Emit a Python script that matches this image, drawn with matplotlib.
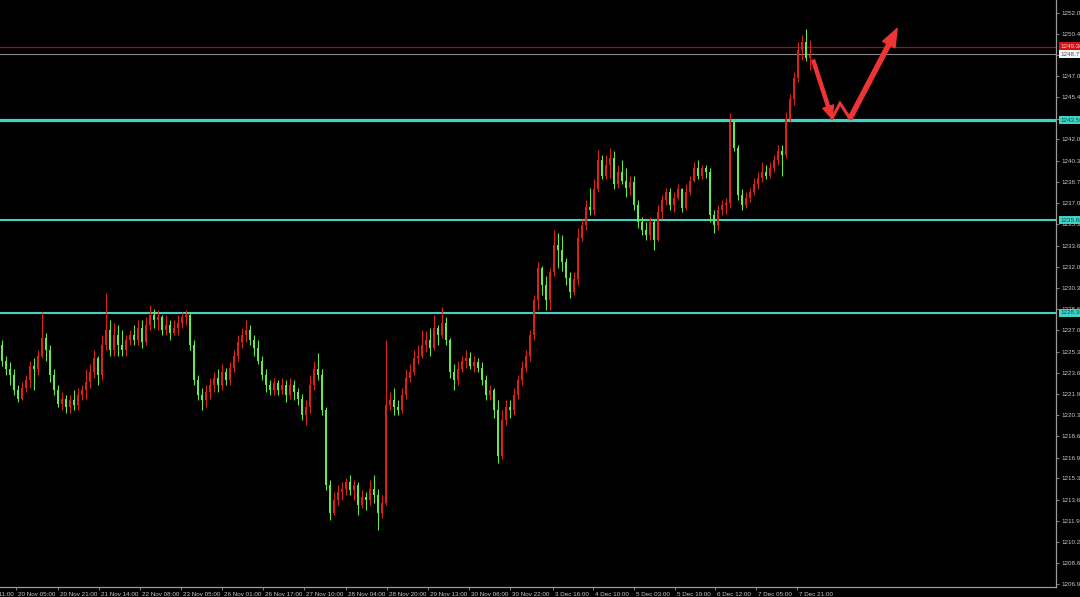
import matplotlib
matplotlib.use("Agg")
import matplotlib.pyplot as plt
import matplotlib.transforms as mtransforms
import numpy as np

# hourly candles, open = previous close
first_open = 1225.8
closes = [
    1224.6, 1223.9, 1223.5, 1222.3, 1221.6, 1222.4, 1223.1, 1224.2, 1223.9, 1225.0,
    1226.4, 1225.4, 1223.5, 1222.3, 1221.2, 1221.6, 1220.9, 1221.5, 1221.1, 1221.9,
    1222.3, 1222.9, 1223.7, 1224.8, 1223.5, 1225.8, 1227.0, 1225.4, 1226.6, 1225.8,
    1225.4, 1226.2, 1226.6, 1226.2, 1227.2, 1226.1, 1227.4, 1228.2, 1227.8, 1228.0,
    1227.0, 1227.4, 1226.8, 1227.2, 1227.6, 1228.0, 1228.2, 1225.8, 1223.1, 1221.9,
    1221.5, 1222.1, 1222.7, 1223.2, 1222.7, 1223.7, 1223.1, 1224.0, 1225.0, 1226.1,
    1226.6, 1227.0, 1226.2, 1225.6, 1224.6, 1223.5, 1222.7, 1222.3, 1222.8, 1222.3,
    1222.7, 1221.9, 1222.7, 1222.1, 1221.6, 1220.3, 1220.9, 1222.7, 1223.9, 1223.5,
    1220.7, 1214.8, 1212.6, 1213.6, 1214.2, 1214.5, 1215.0, 1214.4, 1214.8, 1213.2,
    1213.8, 1213.6, 1214.5, 1214.0, 1212.6, 1213.4, 1221.1, 1221.5, 1220.9, 1220.7,
    1221.9, 1223.2, 1223.7, 1224.8, 1225.0, 1225.8, 1226.2, 1225.6, 1227.2, 1226.6,
    1227.6, 1226.2, 1223.7, 1223.1, 1223.9, 1224.6, 1224.8, 1224.2, 1224.5, 1224.0,
    1223.1, 1221.9, 1222.3, 1220.7, 1217.1, 1219.9, 1220.9, 1220.7, 1221.9, 1223.1,
    1224.0, 1225.0, 1226.6, 1229.4, 1231.9, 1230.6, 1229.4, 1231.6, 1233.7, 1233.3,
    1232.4, 1231.1, 1230.0, 1231.0, 1234.3, 1235.3, 1236.7, 1236.5, 1238.1, 1240.4,
    1239.2, 1240.0, 1240.6, 1238.5, 1239.5, 1238.8, 1238.2, 1238.7, 1236.9, 1235.5,
    1234.9, 1234.5, 1235.5, 1234.1, 1236.3, 1237.3, 1237.9, 1236.9, 1237.4, 1238.1,
    1236.6, 1237.9, 1238.8, 1239.8, 1239.2, 1239.8, 1239.5, 1236.1, 1235.3, 1236.5,
    1236.9, 1237.0, 1243.4, 1241.4, 1237.7, 1236.9, 1237.4, 1237.9, 1238.5, 1239.0,
    1239.5, 1239.2, 1239.8, 1240.4, 1241.1, 1240.8, 1243.7, 1245.2, 1246.9, 1249.1,
    1249.7, 1248.5, 1248.7,
]
highs = [
    1226.2, 1225.0, 1224.5, 1223.9, 1222.7, 1222.9, 1223.5, 1224.6, 1224.8, 1225.4,
    1228.4, 1226.8, 1225.8, 1223.9, 1222.7, 1222.1, 1221.9, 1221.9, 1222.3, 1222.4,
    1222.7, 1223.9, 1224.3, 1225.4, 1225.0, 1226.6, 1229.9, 1227.8, 1227.6, 1227.4,
    1227.0, 1226.6, 1227.0, 1227.4, 1227.8, 1227.8, 1228.0, 1229.0, 1228.7, 1228.6,
    1228.2, 1228.2, 1227.8, 1227.8, 1228.2, 1228.4, 1228.6, 1228.4, 1226.2, 1223.5,
    1222.4, 1222.7, 1223.2, 1223.7, 1223.9, 1224.3, 1224.0, 1224.5, 1225.4, 1226.6,
    1227.2, 1227.8, 1227.4, 1226.6, 1226.2, 1225.0, 1223.9, 1223.1, 1223.2, 1223.1,
    1223.2, 1223.1, 1223.2, 1223.1, 1222.4, 1222.0, 1221.5, 1223.5, 1224.6, 1225.2,
    1223.9, 1220.9, 1215.2, 1214.2, 1214.8, 1215.0, 1215.3, 1215.6, 1215.2, 1215.0,
    1214.4, 1214.2, 1215.2, 1215.6, 1214.5, 1214.0, 1226.2, 1222.1, 1222.4, 1221.5,
    1222.4, 1223.9, 1224.3, 1225.4, 1225.8, 1227.0, 1226.9, 1227.2, 1228.2, 1227.4,
    1228.8, 1228.0, 1226.4, 1224.3, 1224.6, 1225.0, 1225.4, 1225.3, 1225.0, 1224.8,
    1224.5, 1223.5, 1222.7, 1222.4, 1221.5, 1220.7, 1221.5, 1221.5, 1222.4, 1223.5,
    1224.6, 1225.4, 1227.0, 1229.8, 1232.4, 1232.1, 1231.3, 1231.9, 1234.9, 1234.7,
    1234.5, 1232.7, 1231.6, 1231.6, 1235.1, 1235.8, 1237.3, 1238.2, 1238.9, 1241.2,
    1240.8, 1240.8, 1241.4, 1241.1, 1240.0, 1240.4, 1239.8, 1239.2, 1239.2, 1237.3,
    1235.9, 1235.5, 1235.9, 1235.7, 1236.9, 1237.7, 1238.2, 1238.2, 1237.9, 1238.5,
    1238.2, 1238.5, 1239.2, 1240.3, 1240.4, 1240.0, 1240.0, 1239.8, 1236.5, 1236.9,
    1237.3, 1237.4, 1244.1, 1243.6, 1241.6, 1238.1, 1237.9, 1238.2, 1239.0, 1239.5,
    1240.3, 1240.0, 1240.3, 1240.8, 1241.6, 1241.6, 1244.2, 1245.6, 1247.4, 1249.7,
    1250.3, 1250.8, 1249.9,
]
lows = [
    1224.2, 1223.5, 1222.7, 1221.9, 1221.3, 1221.5, 1222.1, 1222.4, 1222.3, 1223.5,
    1224.8, 1224.6, 1222.9, 1221.9, 1220.9, 1220.7, 1220.5, 1220.5, 1220.7, 1220.7,
    1221.5, 1221.6, 1222.4, 1223.2, 1222.7, 1223.1, 1225.4, 1225.0, 1225.0, 1225.0,
    1225.0, 1225.0, 1225.8, 1225.8, 1225.8, 1225.6, 1225.8, 1227.0, 1227.2, 1227.0,
    1226.6, 1226.6, 1226.2, 1226.6, 1226.6, 1227.2, 1227.4, 1225.4, 1222.7, 1221.5,
    1220.7, 1220.9, 1221.6, 1222.1, 1222.1, 1222.3, 1222.7, 1222.7, 1223.7, 1224.6,
    1225.6, 1226.1, 1225.8, 1225.0, 1224.3, 1223.1, 1222.1, 1221.9, 1221.9, 1221.9,
    1222.0, 1221.3, 1221.6, 1221.5, 1221.1, 1219.9, 1219.5, 1220.5, 1222.3, 1223.1,
    1220.3, 1214.4, 1212.0, 1212.4, 1213.2, 1213.6, 1214.0, 1214.0, 1213.6, 1212.4,
    1213.0, 1212.8, 1213.2, 1213.4, 1211.2, 1212.2, 1213.2, 1220.7, 1220.3, 1220.3,
    1220.5, 1221.6, 1222.9, 1223.5, 1224.3, 1224.8, 1225.3, 1225.0, 1225.4, 1225.8,
    1226.4, 1225.8, 1223.2, 1222.3, 1222.7, 1223.7, 1224.0, 1223.9, 1223.7, 1223.7,
    1222.7, 1221.5, 1221.5, 1220.1, 1216.5, 1216.8, 1219.5, 1220.1, 1220.3, 1221.6,
    1222.7, 1223.7, 1224.6, 1226.2, 1228.6, 1229.8, 1228.6, 1228.6, 1231.3, 1231.9,
    1231.7, 1230.6, 1229.5, 1229.8, 1230.6, 1234.0, 1234.9, 1236.1, 1236.1, 1237.9,
    1238.9, 1238.9, 1239.0, 1238.1, 1238.2, 1238.5, 1237.5, 1237.7, 1236.5, 1235.1,
    1234.5, 1234.1, 1234.1, 1233.3, 1234.0, 1235.8, 1236.9, 1236.5, 1236.3, 1237.3,
    1236.3, 1236.5, 1237.7, 1238.7, 1238.9, 1238.9, 1239.0, 1235.5, 1234.7, 1234.9,
    1236.1, 1236.2, 1236.6, 1241.1, 1237.3, 1236.5, 1236.6, 1237.1, 1237.7, 1238.1,
    1238.7, 1238.9, 1239.0, 1239.5, 1240.0, 1239.2, 1240.6, 1243.4, 1244.8, 1246.6,
    1248.3, 1248.2, 1247.5,
]

price_ticks = [
    "1252.05", "1250.40", "1248.70", "1247.05", "1245.40", "1243.70", "1242.05",
    "1240.35", "1238.70", "1237.00", "1235.35", "1233.65", "1232.00", "1230.35",
    "1228.65", "1227.00", "1225.30", "1223.65", "1221.95", "1220.30", "1218.65",
    "1216.95", "1215.30", "1213.60", "1211.95", "1210.25", "1208.60", "1206.95",
]
time_labels = [
    "19 Nov 11:00", "20 Nov 05:00", "20 Nov 21:00", "21 Nov 14:00", "22 Nov 08:00",
    "23 Nov 05:00", "26 Nov 01:00", "26 Nov 17:00", "27 Nov 10:00", "28 Nov 04:00",
    "28 Nov 20:00", "29 Nov 13:00", "30 Nov 06:00", "30 Nov 22:00", "3 Dec 16:00",
    "4 Dec 10:00", "5 Dec 03:00", "5 Dec 19:00", "6 Dec 12:00", "7 Dec 05:00",
    "7 Dec 21:00",
]
time_label_bars = [-6.8, 3.5, 14.0, 24.2, 34.5, 44.8, 55.0, 65.2, 75.5, 86.0,
                   96.2, 106.5, 116.8, 127.0, 137.8, 147.8, 158.0, 168.2, 178.2,
                   188.5, 198.8]

red_level = 1249.38
bid_level = 1248.77
support_levels = [1243.56, 1235.68, 1228.36]
support_widths = [2.3, 1.5, 1.5]

# forecast sketch: (bar, price) waypoints
leg_down = [(202.8, 1248.3), (207.5, 1243.7)]
zigzag = [(207.5, 1243.7), (209.5, 1244.9), (212.0, 1243.7)]
leg_up = [(212.0, 1243.7), (223.8, 1250.8)]

UP = "#d8221a"
DOWN = "#6ce655"
AXIS = "#9a9a9a"
TXT = "#c8c8c8"
CYAN = "#3fd3c6"
FONT = "Liberation Sans"
FS = 4.5

fig = plt.figure(figsize=(10.8, 5.97), dpi=100, facecolor="black")
ax = fig.add_axes([0, 1 - 587 / 597, 1056 / 1080, 587 / 597])
ax.set_facecolor("black")

opens = np.array([first_open] + closes[:-1])
closes_a = np.array(closes)
highs_a = np.maximum(np.array(highs), np.maximum(opens, closes_a))
lows_a = np.minimum(np.array(lows), np.minimum(opens, closes_a))
idx = np.arange(len(closes_a))
colors = np.where(closes_a >= opens, UP, DOWN)

ax.vlines(idx, lows_a, highs_a, colors=colors, linewidth=0.8, zorder=2)
body_low = np.minimum(opens, closes_a)
body_h = np.maximum(np.abs(closes_a - opens), 0.06)
ax.bar(idx, body_h, bottom=body_low, width=0.7, color=colors, linewidth=0, zorder=3)

ax.axhline(red_level, color="#a01010", linewidth=0.9, zorder=1)
ax.axhline(bid_level, color="#8a8a8a", linewidth=0.8, zorder=1)
for lvl, lw in zip(support_levels, support_widths):
    ax.axhline(lvl, color=CYAN, linewidth=lw, zorder=1)

arrow_col = "#ee3434"
ax.annotate("", xy=leg_down[1], xytext=leg_down[0],
            arrowprops=dict(arrowstyle="simple,head_length=0.9,head_width=0.8,tail_width=0.22",
                            color=arrow_col, shrinkA=0, shrinkB=0), zorder=5)
zx, zy = zip(*zigzag)
ax.plot(zx, zy, color=arrow_col, linewidth=2.2, solid_joinstyle="miter", zorder=5)
ax.annotate("", xy=leg_up[1], xytext=leg_up[0],
            arrowprops=dict(arrowstyle="simple,head_length=1.3,head_width=1.0,tail_width=0.3",
                            color=arrow_col, shrinkA=0, shrinkB=0), zorder=5)

for side in ("left", "top"):
    ax.spines[side].set_visible(False)
for side in ("right", "bottom"):
    ax.spines[side].set_color(AXIS)
    ax.spines[side].set_linewidth(0.9)

ax.yaxis.tick_right()
ax.set_yticks([float(t) for t in price_ticks])
ax.set_yticklabels(price_ticks, fontsize=FS, color=TXT, family=FONT)
ax.tick_params(axis="y", colors=AXIS, labelcolor=TXT, length=2.5, width=0.6, pad=1.5)

ax.set_xticks(time_label_bars)
ax.set_xticklabels(time_labels, fontsize=FS, color=TXT, family=FONT, ha="left")
ax.tick_params(axis="x", colors=AXIS, labelcolor=TXT, length=2.5, width=0.6, pad=1.0)
shift = mtransforms.ScaledTranslation(1.5 / 72, 0, fig.dpi_scale_trans)
for lbl in ax.get_xticklabels():
    lbl.set_transform(lbl.get_transform() + shift)

# limits after ticks so the ticks do not widen the view
ax.set_xlim(-0.5, 263.5)
ax.set_ylim(1253.05 - 0.0789 * 587, 1253.05)

# first time label sits left of the view; only its tail shows
xtrans = mtransforms.blended_transform_factory(ax.transData, ax.transAxes)
drop = mtransforms.ScaledTranslation(1.5 / 72, -3.5 / 72, fig.dpi_scale_trans)
ax.text(time_label_bars[0], 0, time_labels[0], transform=xtrans + drop,
        fontsize=FS, family=FONT, color=TXT, ha="left", va="top", clip_on=False)

# price tags on the scale
trans = mtransforms.blended_transform_factory(ax.transAxes, ax.transData)
tags = [(red_level, "#d41414", "#ffd0d0"), (bid_level, "#f4f4f4", "#555555")]
tags += [(lvl, CYAN, "#14514c") for lvl in support_levels]
for lvl, face, fg in tags:
    ax.text(1.004, lvl, f"{lvl:.2f}", transform=trans, fontsize=FS, family=FONT,
            color=fg, va="center", ha="left", clip_on=False, zorder=6,
            bbox=dict(boxstyle="square,pad=0.25", facecolor=face, edgecolor="none"))

fig.savefig("out.png", dpi=100, facecolor="black")
